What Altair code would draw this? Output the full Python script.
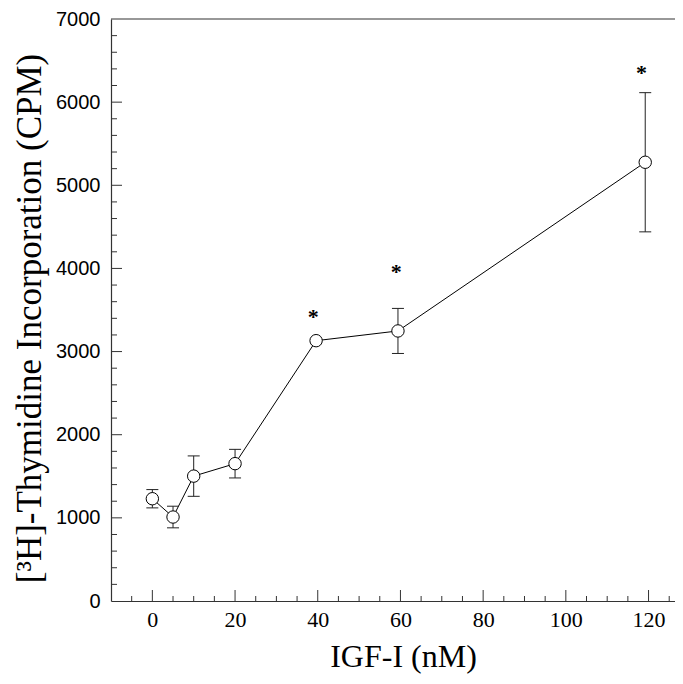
import altair as alt
import pandas as pd

# Data
dose = [0, 5, 10, 20, 39.6, 59.4, 119.2]
cpm = [1230, 1010, 1502, 1652, 3131, 3248, 5277]
err = [110, 130, 243, 172, 0, 271, 837]

star_x = [38.9, 59.0, 118.3]
star_y = [3450, 3988, 6386]

x_major = [0, 20, 40, 60, 80, 100, 120]
x_minor = [-5, 5, 10, 15, 25, 30, 35, 45, 50, 55, 65, 70, 75, 85, 90, 95,
           105, 110, 115, 125]
y_major = [1000, 2000, 3000, 4000, 5000, 6000]
y_minor = [200, 400, 600, 800, 1200, 1400, 1600, 1800, 2200, 2400, 2600, 2800,
           3200, 3400, 3600, 3800, 4200, 4400, 4600, 4800, 5200, 5400, 5600,
           5800, 6200, 6400, 6600, 6800]

W, H = 564, 582

df = pd.DataFrame({"x": dose, "y": cpm, "err": err})
df["lo"] = df["y"] - df["err"]
df["hi"] = df["y"] + df["err"]
stars = pd.DataFrame({"x": star_x, "y": star_y, "t": ["*"] * len(star_x)})

xs = alt.Scale(domain=[-10, 126.4], nice=False, zero=False)
ys = alt.Scale(domain=[0, 7000], nice=False)

xaxis = alt.Axis(
    values=x_major, ticks=False, tickSize=0, grid=False, format="d",
    labelFont="Liberation Serif", labelFontSize=22, labelColor="black",
    labelPadding=8, domainColor="#333", domainWidth=1.2,
    title="IGF-I (nM)", titleFont="Liberation Serif", titleFontSize=32,
    titleFontWeight="normal", titleColor="black",
    titleX=292, titleY=65, titleAlign="center", titleBaseline="alphabetic",
)
yaxis = alt.Axis(
    values=[0] + y_major + [7000], ticks=False, tickSize=0, grid=False,
    format="d",
    labelFont="Liberation Sans", labelFontSize=20, labelColor="black",
    labelPadding=11, domainColor="#333", domainWidth=1.2,
    title="[³H]-Thymidine Incorporation (CPM)", titleFont="Liberation Serif",
    titleFontSize=35, titleFontWeight="normal", titleColor="black",
    titleAngle=270, titleX=-71, titleY=299, titleAlign="center",
    titleBaseline="alphabetic",
)

base = alt.Chart(df)
errbase = base.transform_filter("datum.err > 0")

line = base.mark_line(color="black", strokeWidth=1).encode(
    x=alt.X("x:Q", scale=xs, axis=xaxis),
    y=alt.Y("y:Q", scale=ys, axis=yaxis),
)

bars = errbase.mark_rule(color="#222", strokeWidth=1).encode(
    x="x:Q", y="lo:Q", y2="hi:Q"
)
cap_hi = errbase.mark_rule(color="#222", strokeWidth=1, xOffset=-6, x2Offset=6).encode(
    x="x:Q", x2="x:Q", y="hi:Q"
)
cap_lo = errbase.mark_rule(color="#222", strokeWidth=1, xOffset=-6, x2Offset=6).encode(
    x="x:Q", x2="x:Q", y="lo:Q"
)

points = base.mark_point(
    shape="circle", size=154, filled=True, fill="white", stroke="black",
    strokeWidth=1, opacity=1
).encode(x="x:Q", y="y:Q")

star_marks = alt.Chart(stars).mark_text(
    font="Liberation Serif", fontSize=22, fontWeight="bold", color="black",
    baseline="alphabetic", dy=10
).encode(x="x:Q", y="y:Q", text="t:N")

top_rule = alt.Chart(pd.DataFrame({"v": [7000]})).mark_rule(
    color="#333", strokeWidth=1.2
).encode(y=alt.Y("v:Q", scale=ys))

xmaj = alt.Chart(pd.DataFrame({"v": x_major})).mark_rule(color="#333", strokeWidth=1).encode(
    x=alt.X("v:Q", scale=xs), y=alt.value(H), y2=alt.value(H - 11)
)
xmin = alt.Chart(pd.DataFrame({"v": x_minor})).mark_rule(color="#333", strokeWidth=1).encode(
    x=alt.X("v:Q", scale=xs), y=alt.value(H), y2=alt.value(H - 5)
)
ymaj = alt.Chart(pd.DataFrame({"v": y_major})).mark_rule(color="#333", strokeWidth=1).encode(
    y=alt.Y("v:Q", scale=ys), x=alt.value(0), x2=alt.value(11)
)
ymin = alt.Chart(pd.DataFrame({"v": y_minor})).mark_rule(color="#333", strokeWidth=1).encode(
    y=alt.Y("v:Q", scale=ys), x=alt.value(0), x2=alt.value(6)
)

chart = alt.layer(
    line, top_rule, xmaj, xmin, ymaj, ymin, bars, cap_hi, cap_lo, points, star_marks
).properties(
    width=W, height=H,
    autosize=alt.AutoSizeParams(type="none"),
    padding={"left": 103, "top": 11, "right": 0, "bottom": 75},
    background="white",
).configure_view(strokeWidth=0)

chart.save("out.html", embed_options={"renderer": "svg", "actions": False})
